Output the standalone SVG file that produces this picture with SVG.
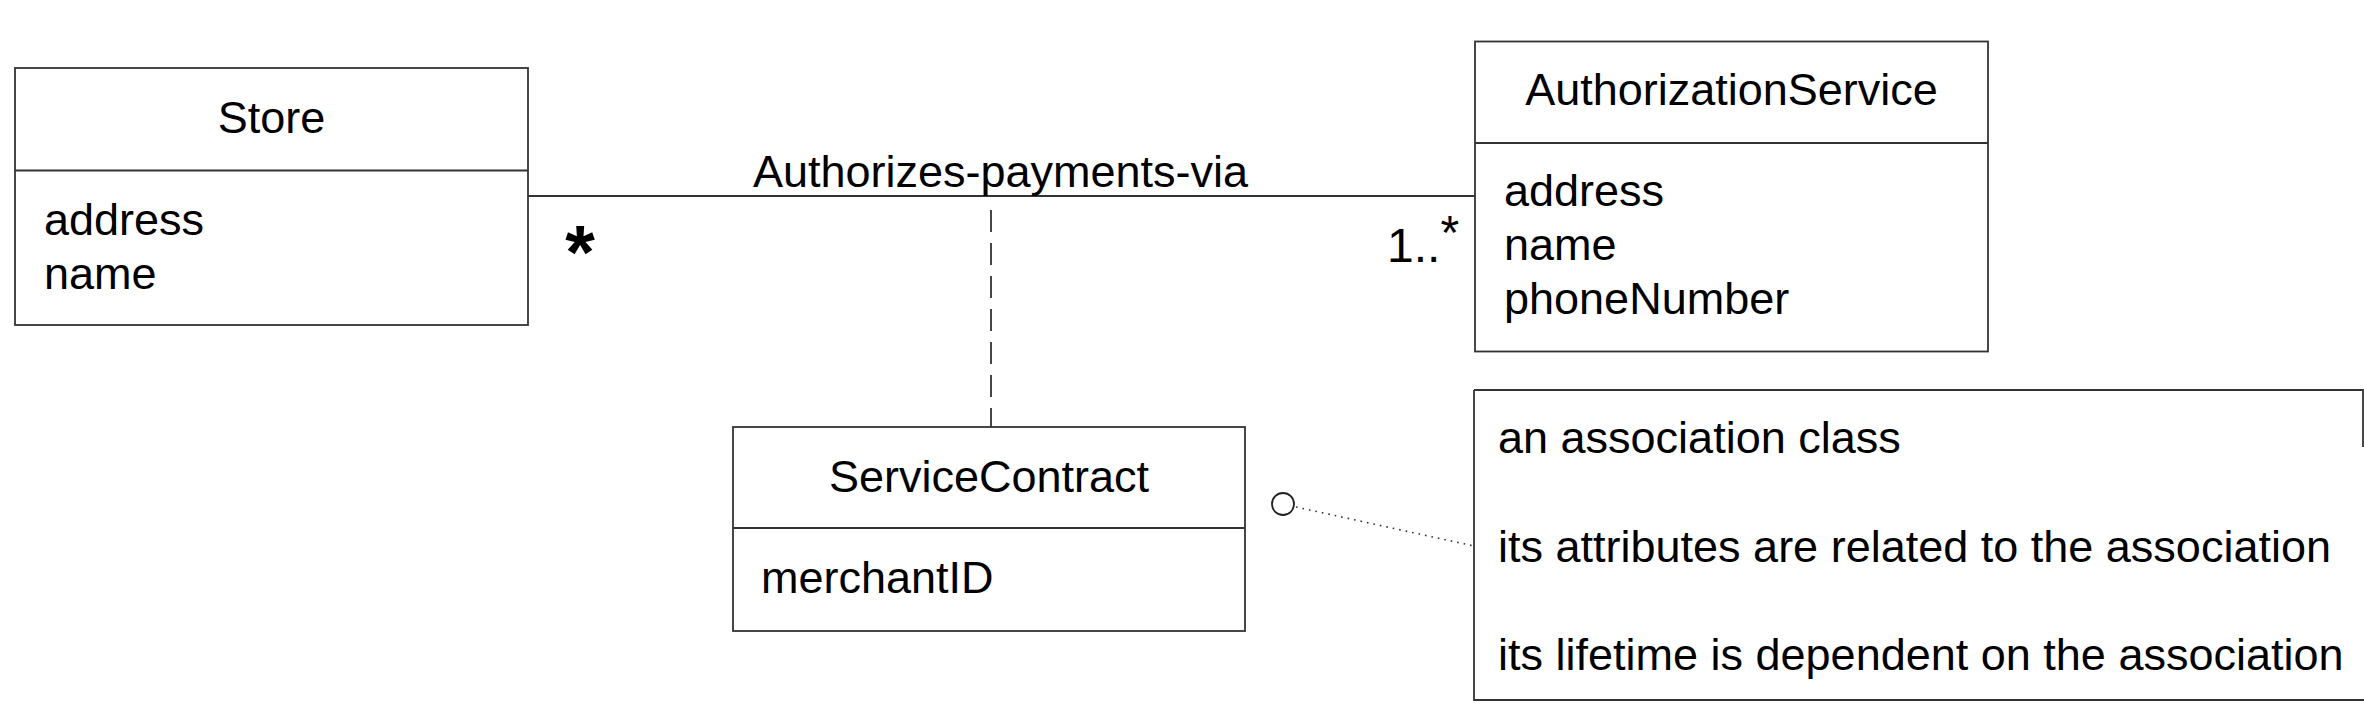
<svg xmlns="http://www.w3.org/2000/svg" width="2364" height="712" viewBox="0 0 2364 712">
<style>
.box{fill:#fff;stroke:#333;stroke-width:1.8}
.div{stroke:#333;stroke-width:1.8}
.t{font-family:"Liberation Sans",Arial,sans-serif;font-size:45px;fill:#000}
.c{text-anchor:middle}
.conn{stroke:#333;stroke-width:1.8;fill:none}
</style>
<rect width="2364" height="712" fill="#fff"/>
<g id="connectors">
<line class="conn" x1="528" y1="196" x2="1475" y2="196"/>
<line class="conn" x1="991" y1="199" x2="991" y2="427" stroke-dasharray="22 11" stroke-dashoffset="22"/>
<line x1="1296" y1="507" x2="1474" y2="546" stroke="#333" stroke-width="1.6" stroke-dasharray="1.6 5"/>
<circle cx="1283" cy="504" r="11" fill="#fff" stroke="#222" stroke-width="1.8"/>
<text class="t" x="1000.5" y="187" text-anchor="middle">Authorizes-payments-via</text>
<text class="t" x="580" y="278" text-anchor="middle" style="font-size:76px;font-weight:bold">*</text>
<text class="t" x="1387" y="262" style="font-size:48px">1..<tspan dy="-13">*</tspan></text>
</g>
<g id="store">
<rect class="box" x="15" y="68" width="513" height="257"/>
<line class="div" x1="15" y1="170.5" x2="528" y2="170.5"/>
<text class="t c" x="271.5" y="133">Store</text>
<text class="t" x="44" y="235">address</text>
<text class="t" x="44" y="289">name</text>
</g>
<g id="authorizationService">
<rect class="box" x="1475" y="41.5" width="513" height="310"/>
<line class="div" x1="1475" y1="143" x2="1988" y2="143"/>
<text class="t c" x="1731.5" y="105">AuthorizationService</text>
<text class="t" x="1504" y="206">address</text>
<text class="t" x="1504" y="260">name</text>
<text class="t" x="1504" y="314">phoneNumber</text>
</g>
<g id="serviceContract">
<rect class="box" x="733" y="427" width="512" height="204"/>
<line class="div" x1="733" y1="528" x2="1245" y2="528"/>
<text class="t c" x="989" y="492">ServiceContract</text>
<text class="t" x="761" y="593">merchantID</text>
</g>
<g id="note">
<rect x="1474" y="390" width="900" height="310" fill="#fff"/>
<path class="conn" d="M1474,390 H2363 V447"/>
<path class="conn" d="M1474,390 V700 H2364"/>
<text class="t" x="1498" y="453">an association class</text>
<text class="t" x="1498" y="562">its attributes are related to the association</text>
<text class="t" x="1498" y="670">its lifetime is dependent on the association</text>
</g>
</svg>
